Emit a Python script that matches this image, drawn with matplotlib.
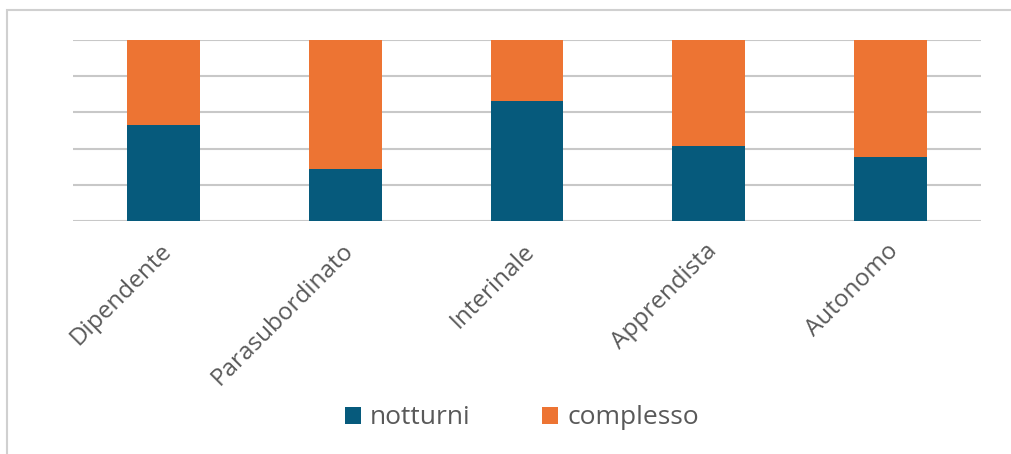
import matplotlib.pyplot as plt
import matplotlib.transforms as mtransforms
from matplotlib.patches import Rectangle

categories = ["Dipendente", "Parasubordinato", "Interinale", "Apprendista", "Autonomo"]
notturni = [53.2, 28.7, 66.3, 41.6, 35.2]
complesso = [100 - v for v in notturni]

BLUE = "#065a7c"
ORANGE = "#ed7433"
TEXT = "#595959"

plt.rcParams['font.family'] = ['Open Sans', 'DejaVu Sans']

fig = plt.figure(figsize=(10.11, 4.54), dpi=100)
ax = fig.add_axes([73 / 1011, 1 - 221 / 454, 908 / 1011, 181 / 454])

# outer chart frame (cut off at the right and bottom)
fig.patches.append(Rectangle((7 / 1011, -0.1), 1.2, 1 - 10 / 454 + 0.1,
                             transform=fig.transFigure, fill=False,
                             edgecolor="#d0d0d0", linewidth=1.5))

x = range(len(categories))
ax.bar(x, notturni, width=0.4, color=BLUE, label="notturni", zorder=3)
ax.bar(x, complesso, width=0.4, bottom=notturni, color=ORANGE, label="complesso", zorder=3)

ax.set_xlim(-0.5, len(categories) - 0.5)
ax.set_ylim(0, 100)
ax.set_yticks(range(0, 101, 20))
ax.yaxis.grid(True, color="#c8c8c8", linewidth=1.5, zorder=0)
ax.tick_params(axis="y", length=0, labelleft=False)
ax.tick_params(axis="x", length=0, pad=13)
for s in ax.spines.values():
    s.set_visible(False)

ax.set_xticks(list(x))
ax.set_xticklabels(categories, rotation=45, ha="right", rotation_mode="anchor",
                   fontsize=17.5, color=TEXT)
shift = mtransforms.ScaledTranslation(-4 / 100, 0, fig.dpi_scale_trans)
for lab in ax.get_xticklabels():
    lab.set_transform(lab.get_transform() + shift)

ax.legend(loc="center", bbox_to_anchor=(0.5 - 5 / 908, -(418 - 221) / 181),
          ncol=2, frameon=False, fontsize=19, handlelength=0.6, handleheight=0.6,
          columnspacing=2.7, handletextpad=0.35, labelcolor=TEXT)

fig.savefig("out.png", dpi=100)
